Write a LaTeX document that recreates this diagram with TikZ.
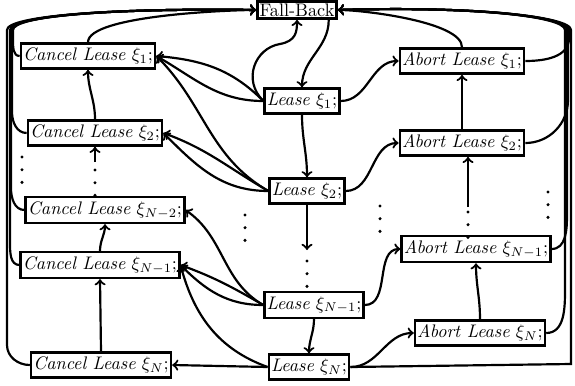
\documentclass[tikz,border=0pt]{standalone}
\usepackage{amsmath}
\usepackage{amssymb}
\usepackage{tikz}
\usetikzlibrary{arrows,shapes,positioning,calc}
\tikzset{
  leasebox/.style={draw, rectangle, line width=1.4pt, inner xsep=1.2pt, inner ysep=2.4pt, fill=white},
  flow/.style={->, >=to, line width=1.2pt},
  gapdots/.style={line width=1.9pt, line cap=round, dash pattern=on 0pt off 7pt}
}
\newcommand{\cancelL}[1]{\textit{Cancel Lease} $\xi_{#1}$;}
\newcommand{\abortL}[1]{\textit{Abort Lease} $\xi_{#1}$;}
\newcommand{\leaseL}[1]{\textit{Lease} $\xi_{#1}$;}

\begin{document}
\begin{tikzpicture}[x=0.55pt, y=-0.55pt]
  \useasboundingbox (0,0) rectangle (575,385);
  % states
  \node[leasebox, inner ysep=1.2pt] (fb) at (297,10) {Fall-Back};
  \node[leasebox] (lease1) at (302,101) {\leaseL{1}};
  \node[leasebox] (lease2) at (307,191) {\leaseL{2}};
  \node[leasebox] (leaseN1) at (314,305) {\leaseL{N-1}};
  \node[leasebox] (leaseN) at (309,367) {\leaseL{N}};
  \node[leasebox] (cancel1) at (88,56) {\cancelL{1}};
  \node[leasebox] (cancel2) at (95,133) {\cancelL{2}};
  \node[leasebox] (cancelN2) at (105,210) {\cancelL{N-2}};
  \node[leasebox] (cancelN1) at (100,265) {\cancelL{N-1}};
  \node[leasebox] (cancelN) at (101,365) {\cancelL{N}};
  \node[leasebox] (abort1) at (462,61) {\abortL{1}};
  \node[leasebox] (abort2) at (462,143) {\abortL{2}};
  \node[leasebox] (abortN1) at (476,249) {\abortL{N-1}};
  \node[leasebox] (abortN) at (480,333) {\abortL{N}};
  \coordinate (cgap) at (95,162);
  \coordinate (lgap) at (307,250);
  \coordinate (agap) at (468,207);

  % omitted steps
  \draw[gapdots] (22,157) -- (22,184);
  \draw[gapdots] (95,170) -- (95,197);
  \draw[gapdots] (245,215) -- (245,243);
  \draw[gapdots] (307,261) -- (307,288);
  \draw[gapdots] (380,206) -- (380,234);
  \draw[gapdots] (468,212) -- (468,239);
  \draw[gapdots] (548,192) -- (548,220);

  % fall-back and first lease
  \draw[flow] ([xshift=-5pt]fb.south east) to[out=-90,in=90] (lease1.north);
  \draw[flow] (lease1.west) .. controls (242,80) and (255,48) .. (280,44) .. controls (296,41) and (297,32) .. (fb.south);

  % columns
  \draw[flow] (lease1.south) to[out=-90,in=90] (lease2.north);
  \draw[flow] (lease2.south) -- (lgap);
  \draw[flow] (leaseN1.south) to[out=-90,in=90] (leaseN.north);
  \draw[flow] (cancel2.north) to[out=90,in=-90] (cancel1.south);
  \draw[flow] (cgap) -- (cancel2.south);
  \draw[flow] (cancelN1.north) to[out=90,in=-90] (cancelN2.south);
  \draw[flow] (cancelN.north) -- (cancelN1.south);
  \draw[flow] (abort2.north) -- (abort1.south);
  \draw[flow] (agap) -- (agap |- abort2.south);
  \draw[flow] (abortN.north) to[out=90,in=-90] (abortN1.south);

  % lease to abort
  \foreach \l/\a in {lease1/abort1, lease2/abort2, leaseN1/abortN1, leaseN/abortN}
    \draw[flow] (\l.east) to[out=0,in=180] (\a.west);

  % lease to cancel
  \draw[flow] (lease1.west) to[out=135,in=-5] (cancel1.east);
  \draw[flow] (lease1.west) to[out=180,in=-30] (cancel1.east);
  \draw[flow] (lease2.west) to[out=150,in=-45] (cancel1.east);
  \draw[flow] (lease2.west) to[out=180,in=-45] (cancel2.east);
  \draw[flow] (lease2.west) to[out=150,in=-20] (cancel2.east);
  \draw[flow] (leaseN1.west) to[out=150,in=-35] (cancelN2.east);
  \draw[flow] (leaseN1.west) to[out=180,in=-45] (cancelN1.east);
  \draw[flow] (leaseN1.west) to[out=150,in=-20] (cancelN1.east);
  \draw[flow] (leaseN.west) to[out=160,in=-75] (cancelN1.east);
  \draw[flow] (leaseN.west) -- (cancelN.east);

  % back to fall-back
  \draw[flow] (cancel1.north) to[out=90,in=180,looseness=0.4] (fb.west);
  \draw[flow] (abort1.north) to[out=90,in=0,looseness=0.5] (fb.east);
  \foreach \n/\rx/\ry in {cancel1/13/40, cancel2/12/112, cancelN2/11/188, cancelN1/10/243, cancelN/7/345}
    \draw[flow] (\n.west) to[out=180,in=-90] (\rx,\ry) -- (\rx,30) .. controls (\rx,16) and (110,8) .. (fb.west);
  \foreach \n/\rx/\ry in {abort1/569/38, abort2/568/100, abortN1/567/215, abortN/565/290}
    \draw[flow] (\n.east) to[out=0,in=-90] (\rx,\ry) -- (\rx,30) .. controls (\rx,16) and (470,6) .. (fb.east);
  \draw[flow] (leaseN.east) -- (571,364) -- (571,30) .. controls (571,16) and (470,6) .. (fb.east);
\end{tikzpicture}
\end{document}
